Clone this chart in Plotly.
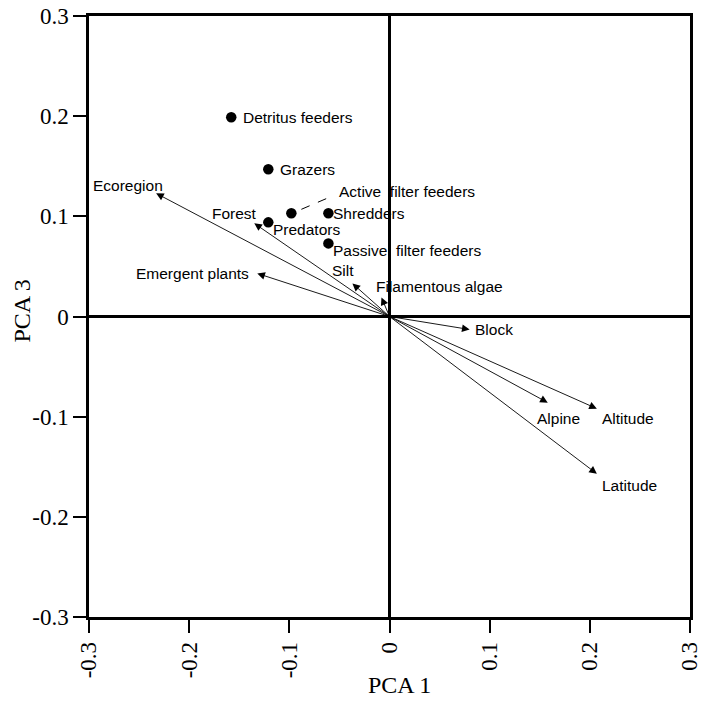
import plotly.graph_objects as go

# Invertebrate feeding groups (PCA scores)
group_names = ["Detritus feeders", "Grazers", "Active  filter feeders", "Shredders",
               "Predators", "Passive  filter feeders"]
group_x = [-0.158, -0.121, -0.098, -0.061, -0.121, -0.061]
group_y = [0.199, 0.147, 0.103, 0.103, 0.094, 0.073]

# Environmental variable loadings (arrows from the origin)
var_names = ["Ecoregion", "Forest", "Emergent plants", "Silt", "Filamentous algae",
             "Block", "Alpine", "Altitude", "Latitude"]
var_x = [-0.233, -0.135, -0.132, -0.037, -0.008, 0.080, 0.158, 0.207, 0.207]
var_y = [0.123, 0.093, 0.043, 0.033, 0.019, -0.013, -0.086, -0.092, -0.157]

tick_vals = [-0.3, -0.2, -0.1, 0, 0.1, 0.2, 0.3]
tick_text = ["-0.3", "-0.2", "-0.1", "0", "0.1", "0.2", "0.3"]

# label placement: (xanchor, xshift, yshift) in pixels
group_label_pos = [("left", 10, 0), ("left", 10, 0), ("left", 46, 22), ("left", 3, 0),
                   ("left", 3, -7), ("left", 3, -7)]
var_label_pos = [("right", 9, 8), ("right", 5, 10), ("right", -6, 0), ("right", 4, 13),
                 ("left", -7, 11), ("left", 3, 0), ("center", 11, -16), ("left", 3, -10),
                 ("left", 3, -12)]

label_font = dict(family="Liberation Sans, Arial", size=15.5, color="black")
serif = "Liberation Serif, Times New Roman"
title_font = dict(family=serif, size=24, color="black")

fig = go.Figure()
fig.add_trace(go.Scatter(x=group_x, y=group_y, mode="markers",
                         marker=dict(size=10.5, color="black"),
                         hoverinfo="skip", showlegend=False))

annotations = []
for name, gx, gy, (anc, dx, dy) in zip(group_names, group_x, group_y, group_label_pos):
    annotations.append(dict(x=gx, y=gy, text=name, showarrow=False, xanchor=anc,
                            yanchor="middle", xshift=dx, yshift=dy, font=label_font))

for name, vx, vy, (anc, dx, dy) in zip(var_names, var_x, var_y, var_label_pos):
    annotations.append(dict(x=vx, y=vy, ax=0, ay=0, axref="x", ayref="y", xref="x", yref="y",
                            text="", showarrow=True, arrowhead=2, arrowsize=1.7,
                            arrowwidth=0.9, arrowcolor="black", standoff=0, startstandoff=0))
    annotations.append(dict(x=vx, y=vy, text=name, showarrow=False, xanchor=anc,
                            yanchor="middle", xshift=dx, yshift=dy, font=label_font))

# axis titles
annotations.append(dict(text="PCA 1", xref="paper", yref="paper", x=0.0167 + 0.5, y=0,
                        xanchor="center", yanchor="middle", yshift=-68, showarrow=False,
                        font=title_font))
annotations.append(dict(text="PCA 3", xref="paper", yref="paper", x=0, y=0.5,
                        xanchor="center", yanchor="middle", xshift=-68, yshift=5,
                        textangle=-90, showarrow=False, font=title_font))

# dashed leader from the active filter feeders point to its label
i_af = 2
fig.add_shape(type="line", x0=group_x[i_af] + 0.010, y0=group_y[i_af] + 0.004,
              x1=group_x[i_af] + 0.038, y1=group_y[i_af] + 0.016,
              line=dict(color="black", width=1, dash="dash"))

axis_common = dict(range=[-0.3, 0.3], tickvals=tick_vals, ticktext=tick_text,
                   showgrid=False, zeroline=True, zerolinecolor="black", zerolinewidth=2.5,
                   showline=True, mirror=True, linecolor="black", linewidth=2.5,
                   ticks="outside", ticklen=13, tickwidth=2, tickcolor="black",
                   automargin=False,
                   tickfont=dict(family=serif, size=23, color="black"))

fig.update_layout(
    width=717, height=702,
    margin=dict(l=89, r=27, t=16, b=85),
    paper_bgcolor="white", plot_bgcolor="white",
    xaxis=dict(**axis_common, tickangle=-90),
    yaxis=dict(**axis_common),
    annotations=annotations,
)

fig.write_html("out.html")
